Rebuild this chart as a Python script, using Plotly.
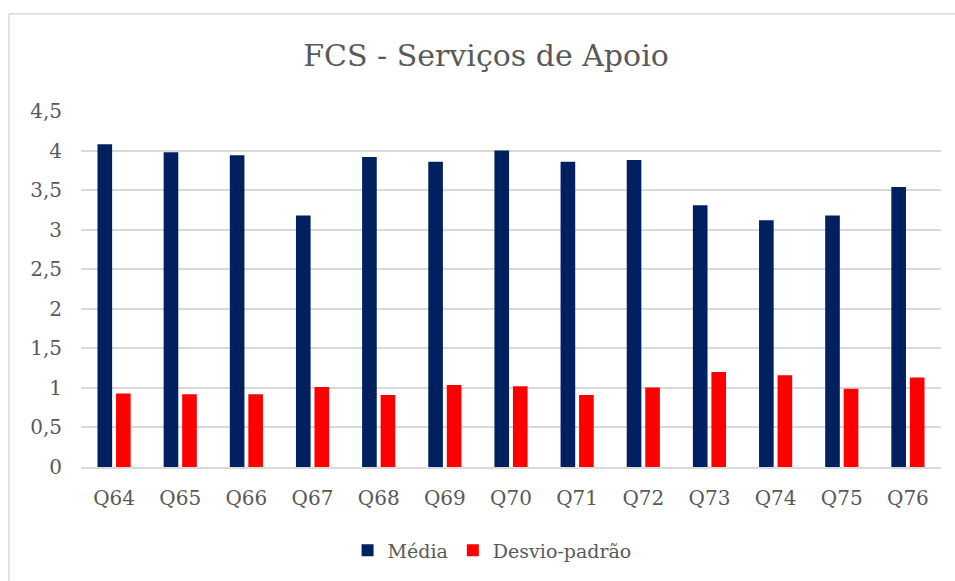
import plotly.graph_objects as go

categories = ["Q64", "Q65", "Q66", "Q67", "Q68", "Q69", "Q70", "Q71", "Q72", "Q73", "Q74", "Q75", "Q76"]
media = [4.08, 3.98, 3.94, 3.18, 3.92, 3.86, 4.00, 3.86, 3.88, 3.31, 3.12, 3.18, 3.54]
desvio = [0.93, 0.92, 0.92, 1.01, 0.91, 1.035, 1.02, 0.91, 1.005, 1.20, 1.16, 0.99, 1.13]

FONT = "DejaVu Serif"
GRAY = "#595959"

fig = go.Figure()
fig.add_trace(go.Bar(x=categories, y=media, name="Média", marker_color="#002060",
                     marker_line_width=0))
fig.add_trace(go.Bar(x=categories, y=desvio, name="Desvio-padrão", marker_color="#FF0000",
                     marker_line_width=0))

fig.update_layout(
    width=955, height=581,
    margin=dict(l=81, r=14, t=111, b=111),
    paper_bgcolor="white", plot_bgcolor="white",
    barmode="group", bargap=0.44, bargroupgap=0.21,
    separators=",.",
    font=dict(family=FONT, color=GRAY),
    title=dict(text="FCS - Serviços de Apoio", x=486 / 955, xref="container", xanchor="center",
               y=1 - 55 / 581, yref="container", yanchor="middle",
               font=dict(family=FONT, size=30, color=GRAY)),
    legend=dict(orientation="h", x=0.478, xanchor="center", y=-0.234, yanchor="middle",
                font=dict(family=FONT, size=19, color=GRAY), itemwidth=30,
                traceorder="normal"),
    showlegend=True,
)
fig.update_yaxes(range=[0, 4.5], dtick=0.5, showgrid=True, gridcolor="#d9d9d9", gridwidth=1.5,
                 zeroline=False, showline=False, ticks="", ticklabelstandoff=18,
                 tickfont=dict(family=FONT, size=20, color=GRAY))
fig.update_xaxes(showline=True, linecolor="#d9d9d9", linewidth=1.5, ticks="",
                 ticklabelstandoff=12, tickfont=dict(family=FONT, size=20, color=GRAY))

# outer chart border (light gray): only top and left edges are visible in the window
bx0 = (9 - 81) / 859
by1 = 1 + (111 - 13) / 359
fig.add_shape(type="line", xref="paper", yref="paper", x0=bx0, x1=1.1, y0=by1, y1=by1,
              line=dict(color="#d9d9d9", width=1.5), layer="below")
fig.add_shape(type="line", xref="paper", yref="paper", x0=bx0, x1=bx0, y0=-0.5, y1=by1,
              line=dict(color="#d9d9d9", width=1.5), layer="below")

fig.write_html("out.html", config={"displayModeBar": False},
               post_script="document.body.style.margin='0';document.body.style.overflow='hidden';")
